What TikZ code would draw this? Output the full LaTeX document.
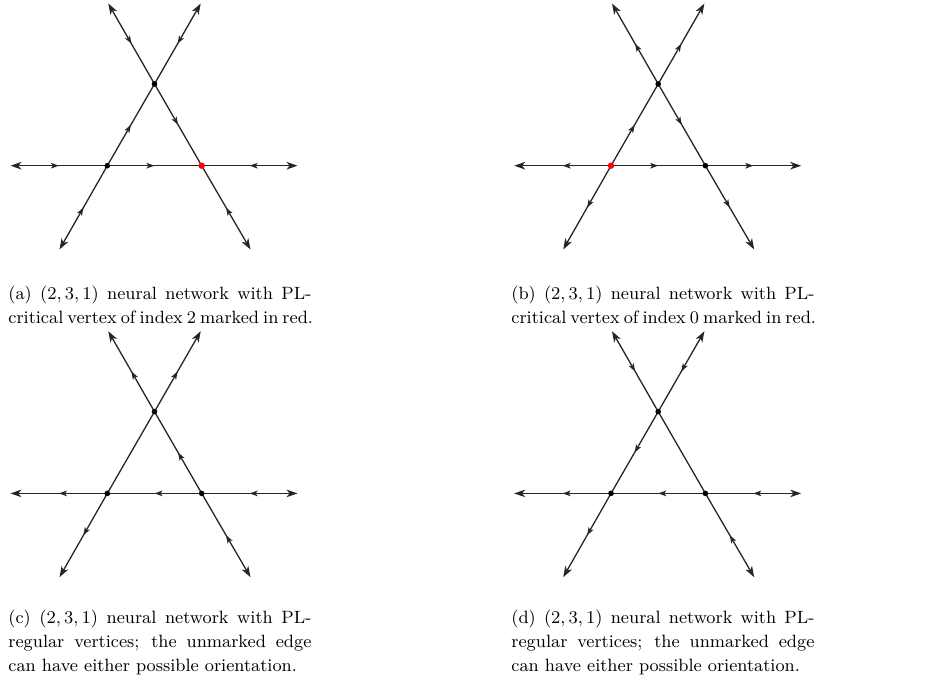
\documentclass[tikz,border=0pt]{standalone}
\usetikzlibrary{arrows.meta,decorations.markings}
\newcommand\mkpanel[1]{%
  \coordinate (#1L) at (107.3,165.7);
  \coordinate (#1R) at (201.7,165.7);
  \coordinate (#1T) at (154.5,83.95);
  \coordinate (#1Lw) at (10.5,165.7);
  \coordinate (#1Re) at (297.5,165.7);
  \coordinate (#1Tnw) at (108.3,3.5);
  \coordinate (#1Tne) at (200.7,3.5);
  \coordinate (#1Lsw) at (59.5,249.5);
  \coordinate (#1Rse) at (250.5,249.5);
}
\tikzset{
  edge/.style={line width=0.65pt, black!85},
  ray/.style={edge, -{Stealth[length=5.5pt,width=3.8pt,inset=1.6pt]}},
  mf/.style={decoration={markings, mark=at position 0.5 with {\arrow{Stealth[length=4pt,width=2.8pt,inset=1pt]}}}, postaction=decorate},
  mb/.style={decoration={markings, mark=at position 0.5 with {\arrowreversed{Stealth[length=4pt,width=2.8pt,inset=1pt]}}}, postaction=decorate},
  dot/.style={circle, fill=black, inner sep=0pt, minimum size=2.8pt},
  reddot/.style={circle, fill=red, inner sep=0pt, minimum size=3.2pt},
  captext/.style={anchor=base west, inner sep=0pt, font=\fontsize{8.9pt}{11pt}\selectfont},
}
\newcommand\capline[1]{\makebox[151.5pt][s]{#1}}
\begin{document}
\begin{tikzpicture}[x=0.5pt,y=-0.5pt]
\useasboundingbox (0,0) rectangle (930,686);
% (a)
\begin{scope}
\mkpanel{a}
\draw[ray,mb] (aL) -- (aLw);
\draw[ray,mb] (aL) -- (aLsw);
\draw[ray,mb] (aR) -- (aRe);
\draw[ray,mb] (aR) -- (aRse);
\draw[ray,mb] (aT) -- (aTnw);
\draw[ray,mb] (aT) -- (aTne);
\draw[edge,mf] (aL) -- (aR);
\draw[edge,mf] (aL) -- (aT);
\draw[edge,mf] (aT) -- (aR);
\node[dot] (adL) at (aL) {};
\node[reddot] (adR) at (aR) {};
\node[dot] (adT) at (aT) {};
\end{scope}
% (b)
\begin{scope}[shift={(503.7,0)}]
\mkpanel{b}
\draw[ray,mf] (bL) -- (bLw);
\draw[ray,mf] (bL) -- (bLsw);
\draw[ray,mf] (bR) -- (bRe);
\draw[ray,mf] (bR) -- (bRse);
\draw[ray,mf] (bT) -- (bTnw);
\draw[ray,mf] (bT) -- (bTne);
\draw[edge,mf] (bL) -- (bR);
\draw[edge,mf] (bL) -- (bT);
\draw[edge,mf] (bT) -- (bR);
\node[reddot] (bdL) at (bL) {};
\node[dot] (bdR) at (bR) {};
\node[dot] (bdT) at (bT) {};
\end{scope}
% (c)
\begin{scope}[shift={(0,327.7)}]
\mkpanel{c}
\draw[ray,mf] (cL) -- (cLw);
\draw[ray,mf] (cL) -- (cLsw);
\draw[ray,mb] (cR) -- (cRe);
\draw[ray,mb] (cR) -- (cRse);
\draw[ray,mf] (cT) -- (cTnw);
\draw[ray,mf] (cT) -- (cTne);
\draw[edge,mb] (cL) -- (cR);
\draw[edge] (cL) -- (cT);
\draw[edge,mb] (cT) -- (cR);
\node[dot] (cdL) at (cL) {};
\node[dot] (cdR) at (cR) {};
\node[dot] (cdT) at (cT) {};
\end{scope}
% (d)
\begin{scope}[shift={(503.7,327.7)}]
\mkpanel{d}
\draw[ray,mf] (dL) -- (dLw);
\draw[ray,mf] (dL) -- (dLsw);
\draw[ray,mb] (dR) -- (dRe);
\draw[ray,mb] (dR) -- (dRse);
\draw[ray,mb] (dT) -- (dTnw);
\draw[ray,mb] (dT) -- (dTne);
\draw[edge,mb] (dL) -- (dR);
\draw[edge,mb] (dL) -- (dT);
\draw[edge] (dT) -- (dR);
\node[dot] (ddL) at (dL) {};
\node[dot] (ddR) at (dR) {};
\node[dot] (ddT) at (dT) {};
\end{scope}
% captions
\node[captext] (ca1) at (8,299) {\capline{(a) $(2,3,1)$ neural network with PL-}};
\node[captext] (ca2) at (8,323) {\capline{critical vertex of index 2 marked in red.}};
\node[captext] (cb1) at (511,299) {\capline{(b) $(2,3,1)$ neural network with PL-}};
\node[captext] (cb2) at (511,323) {\capline{critical vertex of index 0 marked in red.}};
\node[captext] (cc1) at (8,623) {\capline{(c) $(2,3,1)$ neural network with PL-}};
\node[captext] (cc2) at (8,647) {\capline{regular vertices; the unmarked edge}};
\node[captext] (cc3) at (8,671) {can have either possible orientation.};
\node[captext] (cd1) at (511,623) {\capline{(d) $(2,3,1)$ neural network with PL-}};
\node[captext] (cd2) at (511,647) {\capline{regular vertices; the unmarked edge}};
\node[captext] (cd3) at (511,671) {can have either possible orientation.};
\end{tikzpicture}
\end{document}
